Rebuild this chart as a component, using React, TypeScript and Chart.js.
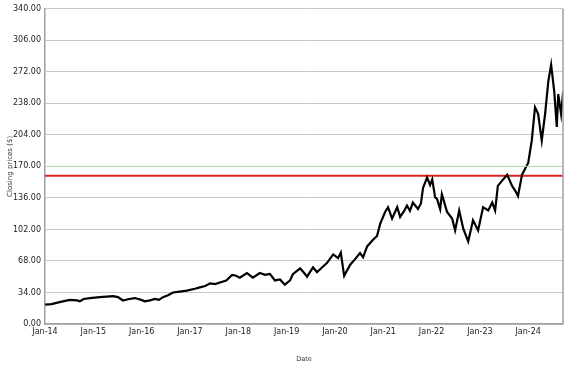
import React, { useEffect, useRef } from "react";
import { Chart, registerables } from "chart.js";

Chart.register(...registerables);

const dates: string[] = [
  "2014-01-02","2014-02-20","2014-04-20","2014-07-05","2014-09-01","2014-09-20","2014-10-20","2014-12-05",
  "2015-02-20","2015-05-28","2015-07-05","2015-08-12","2015-09-28","2015-11-12","2015-12-28",
  "2016-01-25","2016-03-03","2016-04-10","2016-05-10","2016-06-10","2016-07-18","2016-08-25","2016-10-15","2016-12-08",
  "2017-02-08","2017-03-15","2017-04-25","2017-06-01","2017-07-07","2017-08-15","2017-10-01","2017-11-15","2017-12-15",
  "2018-01-12","2018-03-06","2018-04-20","2018-06-12","2018-07-20","2018-08-27","2018-10-04","2018-11-12","2018-12-18",
  "2019-01-27","2019-02-18","2019-04-12","2019-05-18","2019-06-03","2019-07-18","2019-08-18","2019-09-25","2019-11-03","2019-12-18",
  "2020-01-25","2020-02-15","2020-03-10","2020-04-25","2020-06-01","2020-07-08","2020-08-01","2020-09-01","2020-10-15","2020-11-15","2020-12-08",
  "2021-01-15","2021-02-07","2021-03-07","2021-04-15","2021-05-07","2021-06-07","2021-06-28","2021-07-20","2021-08-12","2021-09-20","2021-10-12","2021-10-28","2021-11-28","2021-12-20",
  "2022-01-06","2022-01-28","2022-02-12","2022-03-05","2022-03-18","2022-04-27","2022-06-04","2022-06-27","2022-07-27","2022-08-27","2022-10-04","2022-11-10","2022-12-18",
  "2023-01-25","2023-03-03","2023-04-03","2023-04-25","2023-05-15","2023-06-25","2023-07-25","2023-09-01","2023-09-25","2023-10-15","2023-11-15","2023-12-10",
  "2024-01-01","2024-01-28","2024-02-22","2024-03-15","2024-04-12","2024-05-07","2024-06-01","2024-06-22","2024-07-15","2024-08-04","2024-08-15","2024-09-06","2024-09-22",
];

const closes: number[] = [
  21,21.5,23.6,26,25.5,24.5,27,28,
  29,30,29,25.4,27,28,26,
  24.4,25.5,27,26,29,31,34,35,36,
  38,39.5,41,43.8,43,44.8,47,53,52,
  50,55,50,55,53,54,47,48,42.4,
  47,53.7,60,54,51,61,56,61,66,75,
  71,77,52,64,70,76.6,72,83.7,90.8,95,108,
  120.8,126,113.7,126,115.5,122,127.8,122,131,124,130,147,158,150,
  156,136.6,135,124,140,120.8,113.7,101,122.5,103,89,112,101,
  126,122.5,131,122.5,149,156,161,149,143.7,138,161,168,
  173.7,198,233.8,226.7,198,226.7,262,279.7,251,212.6,248,226.7,251,
];

const yTicks: number[] = [0, 34, 68, 102, 136, 170, 204, 238, 272, 306, 340];
const xTickYears: number[] = [2014, 2015, 2016, 2017, 2018, 2019, 2020, 2021, 2022, 2023, 2024];
const redLevel = 160;
const greenLevel = 170;
const xMin = 2014;
const xMax = 2024.72;

function toYear(d: string): number {
  const [y, m, day] = d.split("-").map(Number);
  return y + (m - 1) / 12 + (day - 1) / 365;
}

const borderPlugin = {
  id: "rightBorder",
  afterDraw(chart: any) {
    const { ctx, chartArea } = chart;
    ctx.save();
    ctx.strokeStyle = "#a0a0a0";
    ctx.lineWidth = 1.5;
    ctx.beginPath();
    ctx.moveTo(chartArea.right, chartArea.top);
    ctx.lineTo(chartArea.right, chartArea.bottom);
    ctx.stroke();
    ctx.restore();
  },
};

export default function App() {
  const ref = useRef<HTMLCanvasElement | null>(null);
  useEffect(() => {
    document.body.style.margin = "0";
    const pts = dates.map((d, i) => ({ x: toYear(d), y: closes[i] }));
    const chart = new Chart(ref.current as HTMLCanvasElement, {
      type: "line",
      data: {
        datasets: [
          {
            data: [{ x: xMin, y: greenLevel }, { x: xMax, y: greenLevel }],
            borderColor: "#b9dcae",
            borderWidth: 1,
            pointRadius: 0,
          },
          {
            data: pts,
            borderColor: "#000000",
            borderWidth: 2.2,
            pointRadius: 0,
            tension: 0,
          },
          {
            data: [{ x: xMin, y: redLevel }, { x: xMax, y: redLevel }],
            borderColor: "#dd2020",
            borderWidth: 2,
            pointRadius: 0,
          },
        ],
      },
      options: {
        animation: false,
        responsive: false,
        maintainAspectRatio: false,
        layout: { padding: { top: 3, right: 14, left: 6, bottom: 0 } },
        plugins: { legend: { display: false }, tooltip: { enabled: false } },
        scales: {
          x: {
            type: "linear",
            min: xMin,
            max: xMax,
            afterBuildTicks: (s: any) => {
              s.ticks = xTickYears.map((v) => ({ value: v }));
            },
            afterFit: (s: any) => {
              s.height = 43;
            },
            grid: { display: false, drawTicks: false },
            border: { display: true, color: "#a0a0a0", width: 1.5 },
            ticks: {
              padding: 3,
              color: "#222",
              font: { family: "DejaVu Sans", size: 8 },
              maxRotation: 0,
              autoSkip: false,
              callback: (v: any) => "Jan-" + String(v).slice(2),
            },
            title: {
              display: true,
              text: "Date",
              color: "#333",
              font: { family: "DejaVu Sans", size: 6.5 },
              padding: { top: 0, bottom: 4 },
            },
          },
          y: {
            type: "linear",
            min: 0,
            max: 340,
            afterBuildTicks: (s: any) => {
              s.ticks = yTicks.map((v) => ({ value: v }));
            },
            afterFit: (s: any) => {
              s.width = 39;
            },
            grid: {
              drawTicks: false,
              color: (c: any) => (c.tick && c.tick.value === greenLevel ? "#b9dcae" : "#c8c8c8"),
              lineWidth: 1,
            },
            border: { display: true, color: "#a0a0a0", width: 1.5 },
            ticks: {
              padding: 4,
              color: "#222",
              font: { family: "DejaVu Sans", size: 8 },
              callback: (v: any) => Number(v).toFixed(2),
            },
            title: {
              display: true,
              text: "Closing prices ($)",
              color: "#333",
              font: { family: "DejaVu Sans", size: 7 },
              padding: { top: 0, bottom: 0 },
            },
          },
        },
      },
      plugins: [borderPlugin],
    } as any);
    return () => chart.destroy();
  }, []);
  return (
    <div style={{ width: 577, height: 367 }}>
      <canvas ref={ref} width={577} height={367} style={{ display: "block" }} />
    </div>
  );
}
